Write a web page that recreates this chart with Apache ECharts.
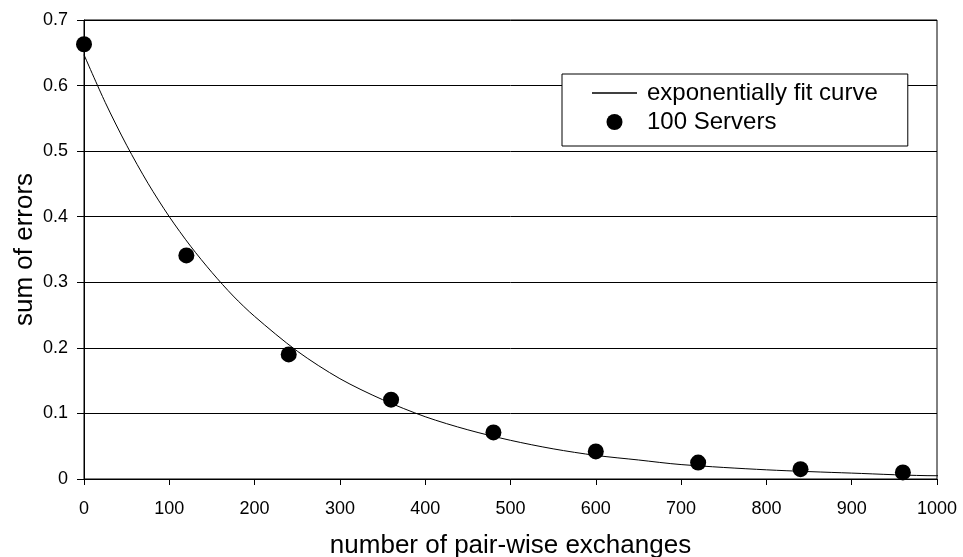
<!DOCTYPE html>
<html>
<head>
<meta charset="utf-8">
<script src="https://cdn.jsdelivr.net/npm/echarts@6/dist/echarts.min.js"></script>
<style>
  html, body { margin: 0; padding: 0; background: #fff; }
  #chart { width: 963px; height: 557px; }
</style>
</head>
<body>
<div id="chart"></div>
<script>
// Measured points (100 Servers)
const serverX = [0, 120, 240, 360, 480, 600, 720, 840, 960];
const serverY = [0.663, 0.341, 0.190, 0.121, 0.071, 0.042, 0.025, 0.015, 0.010];

// Exponentially fit curve
const curveX = [0, 25, 50, 75, 100, 125, 150, 175, 200, 250, 300, 350, 400, 450, 500, 550, 600, 650, 700, 800, 900, 1000, 1012];
const curveY = [0.647, 0.574, 0.509, 0.451, 0.400, 0.355, 0.315, 0.279, 0.248, 0.195, 0.153, 0.121, 0.095, 0.075, 0.059, 0.046, 0.036, 0.029, 0.022, 0.014, 0.009, 0.005, 0.005];

const seriesNames = ['exponentially fit curve', '100 Servers'];
const xTitle = 'number of pair-wise exchanges';
const yTitle = 'sum of errors';

const FONT = '"Liberation Sans", Arial, Helvetica, sans-serif';
const chart = echarts.init(document.getElementById('chart'), null, { renderer: 'canvas' });

chart.setOption({
  animation: false,
  backgroundColor: '#fff',
  textStyle: { fontFamily: FONT, color: '#000' },
  grid: {
    left: 84, right: 26, top: 20, bottom: 78,
    containLabel: false,
    outerBoundsMode: 'none',
    show: true, borderColor: '#000', borderWidth: 1, backgroundColor: 'transparent'
  },
  legend: {
    data: [
      { name: seriesNames[0], icon: 'path://M0,0H60V2H0Z' },
      { name: seriesNames[1], icon: 'circle' }
    ],
    orient: 'vertical',
    left: 562, top: 74,
    padding: [7, 30, 12, 30],
    itemGap: 5,
    itemWidth: 45,
    itemHeight: 16,
    symbolKeepAspect: true,
    backgroundColor: '#fff',
    borderColor: '#000',
    borderWidth: 1,
    textStyle: { fontFamily: FONT, fontSize: 24, color: '#000', padding: [0, 0, 0, 5] },
    inactiveColor: '#000'
  },
  xAxis: {
    type: 'value',
    min: 0, max: 1000, interval: 100,
    name: xTitle,
    nameLocation: 'middle',
    nameGap: 54,
    nameMoveOverlap: false,
    nameTextStyle: { fontFamily: FONT, fontSize: 26, color: '#000' },
    axisLine: { show: true, onZero: false, lineStyle: { color: '#000', width: 1 } },
    axisTick: { show: true, inside: false, length: 6, lineStyle: { color: '#000' } },
    axisLabel: { fontFamily: FONT, fontSize: 18, color: '#000', margin: 21, formatter: v => String(v) },
    splitLine: { show: false }
  },
  yAxis: {
    type: 'value',
    min: 0, max: 0.7, interval: 0.1,
    name: yTitle,
    nameLocation: 'middle',
    nameGap: 46,
    nameMoveOverlap: false,
    nameTextStyle: { fontFamily: FONT, fontSize: 26, color: '#000' },
    axisLine: { show: true, lineStyle: { color: '#000', width: 1 } },
    axisTick: { show: true, inside: false, length: 7, lineStyle: { color: '#000' } },
    axisLabel: { fontFamily: FONT, fontSize: 18, color: '#000', margin: 16 },
    splitLine: { show: true, lineStyle: { color: '#000', width: 1 } }
  },
  series: [
    {
      name: seriesNames[0],
      type: 'line',
      data: curveX.map((x, i) => [x, curveY[i]]),
      symbol: 'none',
      smooth: 0.3,
      clip: false,
      lineStyle: { color: '#000', width: 1 },
      itemStyle: { color: '#000' },
      z: 3
    },
    {
      name: seriesNames[1],
      type: 'scatter',
      data: serverX.map((x, i) => [x, serverY[i]]),
      symbol: 'circle',
      symbolSize: 16,
      clip: false,
      itemStyle: { color: '#000', opacity: 1 },
      z: 4
    }
  ]
});
</script>
</body>
</html>
